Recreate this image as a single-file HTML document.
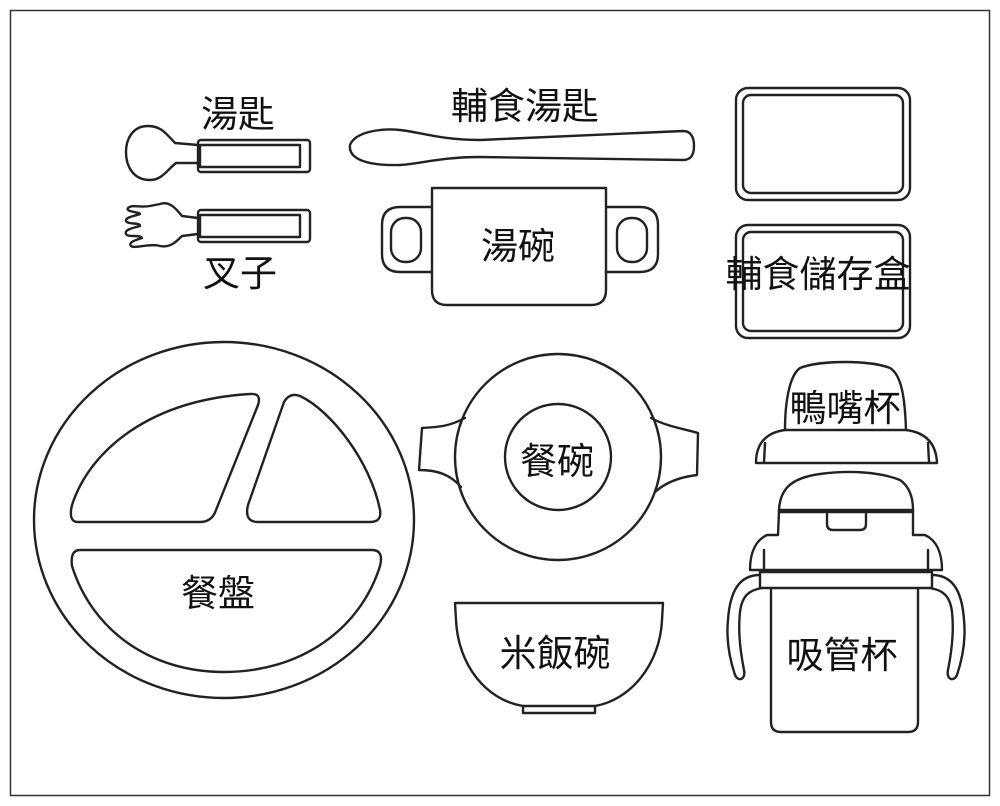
<!DOCTYPE html>
<html><head><meta charset="utf-8"><style>
html,body{margin:0;padding:0;background:#fff}
svg{display:block}
text{font-family:"Liberation Sans","Noto Sans CJK TC",sans-serif;font-size:37px;fill:#111;text-anchor:middle}
</style></head><body>
<svg width="1000" height="806" viewBox="0 0 1000 806" xmlns="http://www.w3.org/2000/svg">
<rect x="0" y="0" width="1000" height="806" fill="#fff"/>
<rect x="10.5" y="10.5" width="979" height="785" fill="none" stroke="#333" stroke-width="1.5"/>
<g fill="none" stroke="#222" stroke-width="2.4" stroke-linejoin="round" stroke-linecap="round">
<path d="M198,145 L175,143 C165,132 160,126 148,126 C132,126 126,140 126,152 C126,166 133,180 150,180 C162,180 167,170 176,163 L198,163"/>
<rect x="198" y="140" width="112" height="32" rx="3"/>
<rect x="200" y="145" width="100" height="22"/>
<path d="M198,218 L182,216 C174,206 168,201 160,204 L150,206 C140,208 132,204 128,208 C125,212 140,212 140,214 C135,216 125,217 126,221 C128,225 140,222 140,226 C132,228 124,230 126,234 C128,238 140,234 142,238 C136,240 128,242 131,246 C134,249 150,243 160,246 C170,248 176,242 182,236 L198,234"/>
<rect x="198" y="210" width="112" height="32" rx="3"/>
<rect x="200" y="215" width="100" height="22"/>
<path d="M350,145 C355,132 380,128 400,130 C420,132 440,140 480,140 L683,131 C690,131 694,136 694,146 C694,156 690,160 683,160 L480,157 C440,157 420,164 400,165 C370,166 348,160 350,145 Z"/>
<path d="M432,188 L606,188 L606,290 Q606,305 591,305 L447,305 Q432,305 432,290 Z"/>
<path d="M432,207 L400,207 Q382,207 382,225 L382,254 Q382,272 400,272 L432,272"/>
<rect x="391" y="218" width="30" height="44" rx="14"/>
<path d="M606,207 L640,207 Q658,207 658,225 L658,254 Q658,272 640,272 L606,272"/>
<rect x="617" y="218" width="30" height="44" rx="14"/>
<rect x="736" y="88" width="174" height="112" rx="12"/>
<rect x="743" y="95" width="160" height="98" rx="8"/>
<rect x="736" y="225" width="174" height="113" rx="12"/>
<rect x="743" y="232" width="160" height="99" rx="8"/>
<ellipse cx="224" cy="520" rx="190" ry="178"/>
<path d="M78,522 L200,522 Q212,522 216,510 L258,405 Q262,393 250,394 C150,400 90,450 72,505 Q68,522 78,522 Z"/>
<path d="M258,522 L370,522 Q382,522 380,510 C370,460 330,410 300,396 Q290,392 284,402 L248,505 Q244,522 258,522 Z"/>
<path d="M80,550 L372,550 Q384,550 380,566 C360,630 300,672 224,672 C150,672 92,630 72,566 Q70,550 80,550 Z"/>
<circle cx="558" cy="457" r="103"/>
<circle cx="558" cy="457" r="53"/>
<path d="M465,418 C450,426 440,427 422,428 L419,470 C436,470 450,474 461,487"/>
<path d="M651,418 C666,426 680,428 698,433 L697,475 C680,477 666,482 655,492"/>
<path d="M455,603 L663,603 L662,620 C660,665 630,700 595,706 L523,706 C486,700 458,665 456,620 Z"/>
<path d="M523,706 L523,713 L595,713 L595,706"/>
<path d="M785,430 C785,400 790,375 800,368 C820,360 870,360 890,368 C902,375 905,400 906,430"/>
<path d="M756,463 C756,440 770,432 785,430 L906,430 C922,432 936,440 937,463 Z"/>
<path d="M765,443 L764,462 M928,443 L929,462"/>
<path d="M779,510 C780,490 790,478 820,474 C850,470 880,472 900,480 C910,487 913,498 913,510"/>
<rect x="779" y="510" width="134" height="2" fill="#222"/>
<path d="M779,511 L778,535 L767,535 C756,540 750,552 750,570 L942,570 C942,552 936,540 925,535 L913,535 L913,511"/>
<path d="M764,570 L764,550 M928,570 L928,550"/>
<path d="M827,514 L827,524 Q827,530 833,530 L860,530 Q866,530 866,524 L866,514"/>
<rect x="760" y="572" width="172" height="16"/>
<path d="M771,588 L771,722 Q771,732 781,732 L908,732 Q918,732 918,722 L918,588"/>
<path d="M760,575 C740,575 730,590 728,620 C726,640 730,660 735,675 C738,682 746,680 744,670 C740,650 738,630 740,612 C742,595 750,590 762,588"/>
<path d="M932,575 C952,575 962,590 964,620 C966,640 962,660 957,675 C954,682 946,680 948,670 C952,650 954,630 952,612 C950,595 942,590 930,588"/>
</g>
<text x="238" y="127">湯匙</text>
<text x="240" y="286">叉子</text>
<text x="525" y="119">輔食湯匙</text>
<text x="518" y="259">湯碗</text>
<text x="818" y="287">輔食儲存盒</text>
<text x="845" y="421">鴨嘴杯</text>
<text x="842" y="668">吸管杯</text>
<text x="557" y="474">餐碗</text>
<text x="218" y="606">餐盤</text>
<text x="555" y="666">米飯碗</text>
</svg>
</body></html>
